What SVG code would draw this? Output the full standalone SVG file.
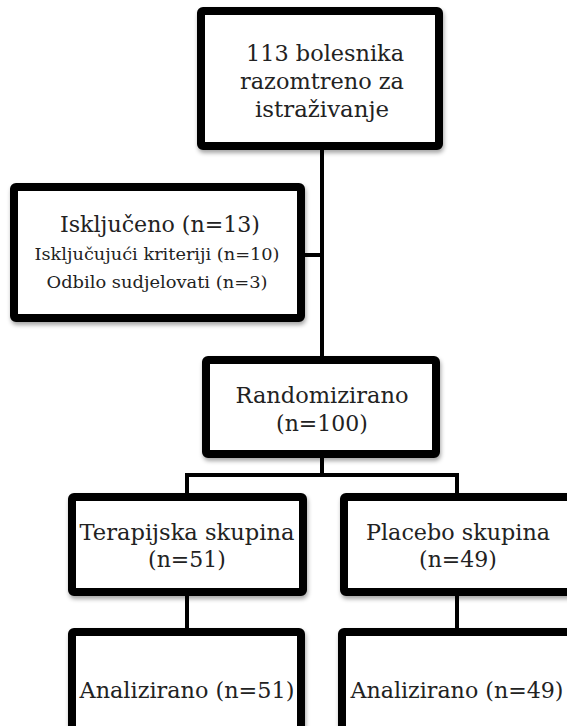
<svg xmlns="http://www.w3.org/2000/svg" width="567" height="726" viewBox="0 0 567 726">
<defs>
<filter id="sh" x="-10%" y="-10%" width="130%" height="130%">
<feDropShadow dx="1" dy="3" stdDeviation="2" flood-color="#000" flood-opacity="0.35"/>
</filter>
</defs>
<style>
.box{fill:#fff;stroke:#000;stroke-width:8;stroke-linejoin:round;filter:url(#sh)}
.ln{stroke:#000;stroke-width:4;fill:none}
text{font-family:"DejaVu Serif","Liberation Serif",serif;fill:#222;text-anchor:middle}
.b{font-size:22px}
.s{font-size:17px}
</style>
<rect width="567" height="726" fill="#fff"/>
<g id="connectors">
<line class="ln" x1="322" y1="146" x2="322" y2="360"/>
<line class="ln" x1="301" y1="255" x2="322" y2="255"/>
<line class="ln" x1="322" y1="454" x2="322" y2="475"/>
<polyline class="ln" points="187,497 187,475 457,475 457,497"/>
<line class="ln" x1="187" y1="592" x2="187" y2="632"/>
<line class="ln" x1="457" y1="592" x2="457" y2="632"/>
</g>
<g id="n1">
<rect class="box" x="201" y="11" width="238" height="135" rx="2"/>
<text class="b" x="325" y="61" textLength="158" lengthAdjust="spacingAndGlyphs">113 bolesnika</text>
<text class="b" x="322" y="89" textLength="164" lengthAdjust="spacingAndGlyphs">razomtreno za</text>
<text class="b" x="322" y="117" textLength="134" lengthAdjust="spacingAndGlyphs">istraživanje</text>
</g>
<g id="n2">
<rect class="box" x="14" y="187" width="287" height="131" rx="2"/>
<text class="b" x="160" y="232" textLength="200" lengthAdjust="spacingAndGlyphs">Isključeno (n=13)</text>
<text class="s" x="157" y="260" textLength="245" lengthAdjust="spacingAndGlyphs">Isključujući kriteriji (n=10)</text>
<text class="s" x="157" y="288" textLength="221" lengthAdjust="spacingAndGlyphs">Odbilo sudjelovati (n=3)</text>
</g>
<g id="n3">
<rect class="box" x="206" y="360" width="230" height="94" rx="2"/>
<text class="b" x="322" y="403" textLength="173" lengthAdjust="spacingAndGlyphs">Randomizirano</text>
<text class="b" x="322" y="431">(n=100)</text>
</g>
<g id="n4">
<rect class="box" x="72" y="497" width="231" height="95" rx="2"/>
<text class="b" x="187" y="540" textLength="215" lengthAdjust="spacingAndGlyphs">Terapijska skupina</text>
<text class="b" x="187" y="567">(n=51)</text>
</g>
<g id="n5">
<rect class="box" x="344" y="497" width="235" height="95" rx="2"/>
<text class="b" x="458" y="540" textLength="184" lengthAdjust="spacingAndGlyphs">Placebo skupina</text>
<text class="b" x="458" y="567">(n=49)</text>
</g>
<g id="n6">
<rect class="box" x="72" y="632" width="229" height="120" rx="2"/>
<text class="b" x="187" y="698" textLength="215" lengthAdjust="spacingAndGlyphs">Analizirano (n=51)</text>
</g>
<g id="n7">
<rect class="box" x="342" y="632" width="235" height="120" rx="2"/>
<text class="b" x="457" y="698" textLength="213" lengthAdjust="spacingAndGlyphs">Analizirano (n=49)</text>
</g>
</svg>
